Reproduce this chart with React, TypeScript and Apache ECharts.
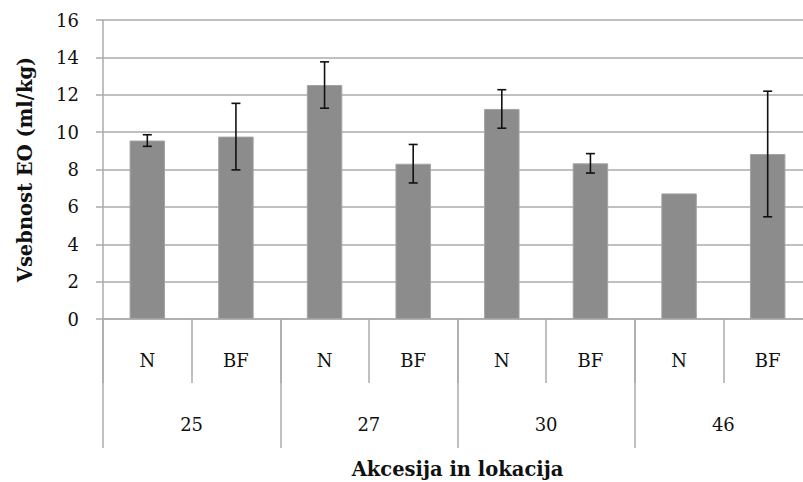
import React, { useEffect, useRef } from "react";
import * as echarts from "echarts";

const subCategories = ["N", "BF", "N", "BF", "N", "BF", "N", "BF"];
const groups = ["25", "27", "30", "46"];
const means = [9.55, 9.76, 12.52, 8.31, 11.24, 8.33, 6.72, 8.83];
const errors = [0.31, 1.78, 1.24, 1.03, 1.03, 0.52, 0, 3.36];
const yMin = 0;
const yMax = 16;
const yInterval = 2;

const FONT = "'DejaVu Serif', 'Liberation Serif', serif";
const GRID_COLOR = "#ababab";

export default function App() {
  const ref = useRef<HTMLDivElement>(null);

  useEffect(() => {
    if (!ref.current) return;
    const chart = echarts.init(ref.current, undefined, { renderer: "svg" });

    const errData = means
      .map((m, i) => [i, m - errors[i], m + errors[i], errors[i]])
      .filter((d) => d[3] > 0);

    const option: any = {
      animation: false,
      backgroundColor: "#ffffff",
      grid: {
        left: 103,
        top: 20,
        bottom: 163,
        width: 709,
        containLabel: false,
        outerBoundsMode: "none",
      },
      xAxis: [
        {
          type: "category",
          data: subCategories,
          position: "bottom",
          axisLine: { show: true, lineStyle: { color: GRID_COLOR, width: 1.5 } },
          axisTick: {
            show: true,
            interval: 0,
            length: 64,
            alignWithLabel: false,
            lineStyle: { color: GRID_COLOR, width: 1.5 },
          },
          axisLabel: {
            interval: 0,
            margin: 32,
            color: "#111",
            fontFamily: FONT,
            fontSize: 18,
          },
        },
        {
          type: "category",
          data: groups,
          position: "bottom",
          axisLine: { show: false },
          axisTick: {
            show: true,
            interval: 0,
            length: 129,
            lineStyle: { color: GRID_COLOR, width: 1.5 },
          },
          axisLabel: {
            interval: 0,
            margin: 96,
            color: "#111",
            fontFamily: FONT,
            fontSize: 18,
          },
          name: "Akcesija in lokacija",
          nameLocation: "middle",
          nameGap: 140,
          nameTextStyle: {
            color: "#111",
            fontFamily: FONT,
            fontSize: 19.5,
            fontWeight: "bold",
          },
        },
      ],
      yAxis: {
        type: "value",
        min: yMin,
        max: yMax,
        interval: yInterval,
        axisLine: { show: true, lineStyle: { color: GRID_COLOR, width: 1.5 } },
        axisTick: { show: true, length: 7, lineStyle: { color: GRID_COLOR, width: 1.5 } },
        splitLine: { show: true, lineStyle: { color: GRID_COLOR, width: 1.5 } },
        axisLabel: {
          margin: 24,
          color: "#111",
          fontFamily: FONT,
          fontSize: 18,
        },
        name: "Vsebnost EO (ml/kg)",
        nameLocation: "middle",
        nameRotate: 90,
        nameGap: 68,
        nameTextStyle: {
          color: "#111",
          fontFamily: FONT,
          fontSize: 19.5,
          fontWeight: "bold",
        },
      },
      series: [
        {
          type: "bar",
          xAxisIndex: 0,
          data: means,
          barWidth: "40%",
          itemStyle: { color: "#8c8c8c", borderColor: "#a3a3a3", borderWidth: 1 },
        },
        {
          type: "custom",
          xAxisIndex: 0,
          data: errData,
          z: 10,
          renderItem: (params: any, api: any) => {
            const x = api.value(0);
            const lo = api.coord([x, api.value(1)]);
            const hi = api.coord([x, api.value(2)]);
            const hw = 4.5;
            const style = { stroke: "#111", lineWidth: 1.6 };
            return {
              type: "group",
              children: [
                { type: "line", shape: { x1: hi[0], y1: hi[1], x2: lo[0], y2: lo[1] }, style },
                { type: "line", shape: { x1: hi[0] - hw, y1: hi[1], x2: hi[0] + hw, y2: hi[1] }, style },
                { type: "line", shape: { x1: lo[0] - hw, y1: lo[1], x2: lo[0] + hw, y2: lo[1] }, style },
              ],
            };
          },
        },
      ],
    };

    chart.setOption(option);
    return () => chart.dispose();
  }, []);

  return (
    <div
      ref={ref}
      style={{ position: "fixed", left: 0, top: 0, width: 803, height: 482, background: "#fff" }}
    />
  );
}
